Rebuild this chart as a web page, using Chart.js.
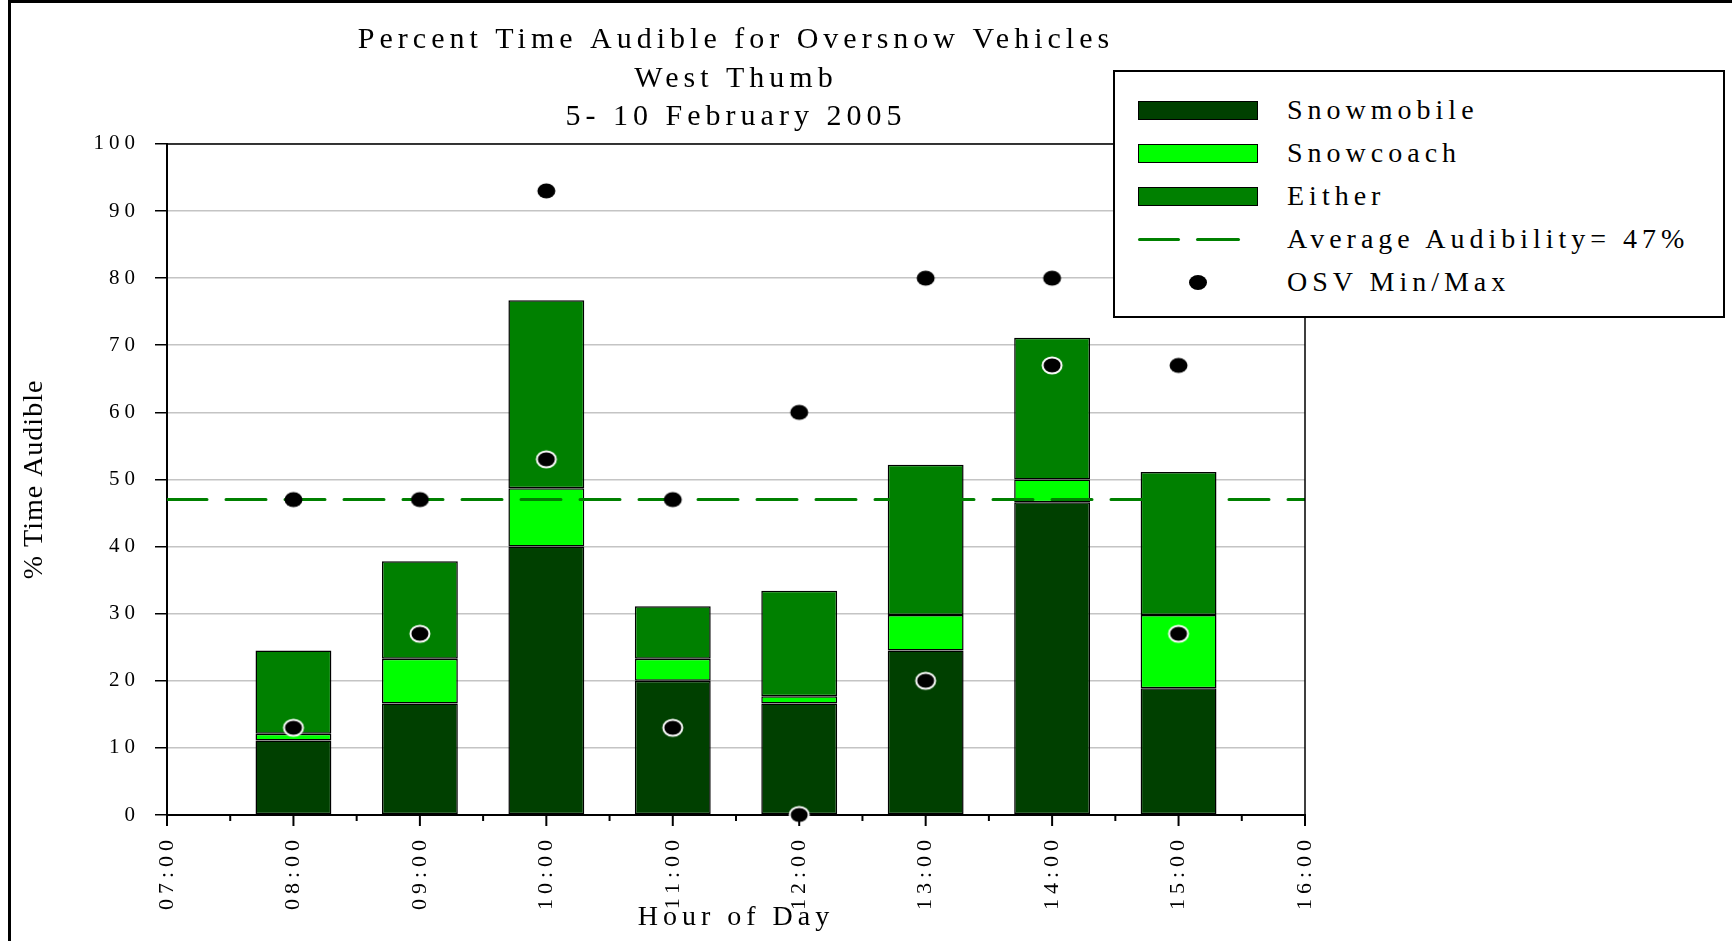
<!DOCTYPE html>
<html>
<head>
<meta charset="utf-8">
<title>Percent Time Audible for Oversnow Vehicles</title>
<script src="https://cdn.jsdelivr.net/npm/chart.js@4.4.1/dist/chart.umd.min.js"></script>
<style>
    body { margin: 0; background: #fff; }
    #wrap { position: relative; width: 1732px; height: 941px; overflow: hidden; }
    #frame { position: absolute; left: 8px; top: 0; right: -10px; bottom: -10px;
             border-left: 3px solid #000; border-top: 3px solid #000; pointer-events: none; }
    #legend { position: absolute; left: 1113px; top: 70px; width: 608px; height: 244px;
              border: 2px solid #000; background: #fff;
              font-family: 'Liberation Serif', 'Times New Roman', serif; font-size: 28px;
              letter-spacing: 5px; color: #000; }
    .item { position: absolute; left: 0; height: 40px; width: 100%; }
    .item .key { position: absolute; left: 23px; top: 10px; width: 120px; height: 19px; }
    .item .txt { position: absolute; left: 172px; top: 3px; white-space: nowrap; }
</style>
</head>
<body>
<div id="wrap">
    <canvas id="chart" width="1732" height="941"></canvas>
    <div id="frame"></div>
    <div id="legend"></div>
</div>
<script>
// values
const hours = [8, 9, 10, 11, 12, 13, 14, 15];
const snowmobile = [11.1, 16.6, 40.0, 20.0, 16.6, 24.5, 46.6, 18.9];
const snowcoach = [1.0, 6.7, 8.7, 3.3, 1.1, 5.3, 3.4, 10.9];
const either = [12.4, 14.5, 28.0, 7.8, 15.7, 22.4, 21.1, 21.3];
const osvMin = [13, 27, 53, 13, 0, 20, 67, 27];
const osvMax = [47, 47, 93, 47, 60, 80, 80, 67];
const averageAudibility = 47;
const hourRange = [7, 16];
const hourLabels = ['07:00', '08:00', '09:00', '10:00', '11:00', '12:00', '13:00', '14:00', '15:00', '16:00'];
const percentRange = [0, 100];
const titleLines = ['Percent Time Audible for Oversnow Vehicles', 'West Thumb', '5- 10 February 2005'];

const FONT = "'Liberation Serif', 'Times New Roman', serif";
const C_SNOWMOBILE = '#004000';
const C_SNOWCOACH = '#00ff00';
const C_EITHER = '#008000';
const C_AVG = '#008000';

// black ellipse markers, optional white ring
const makeDot = (w, h, ring) => {
    const c = document.createElement('canvas');
    c.width = w + 5;
    c.height = h + 5;
    const g = c.getContext('2d');
    g.beginPath();
    g.ellipse(c.width / 2, c.height / 2, w / 2, h / 2, 0, 0, Math.PI * 2);
    g.fillStyle = '#000';
    g.fill();
    if (ring) {
        g.strokeStyle = '#fff';
        g.lineWidth = 2;
        g.stroke();
    }
    return c;
};
const minDot = makeDot(19, 16, true);
const maxDot = makeDot(18, 15, false);

const toXY = (vals) => hours.map((h, i) => ({ x: h, y: vals[i] }));

// the ruler also counts the half-hour ticks, so 1.2 of a half hour = 0.6 of an hour
const barSet = (label, vals, color) => ({
    type: 'bar',
    label: label,
    data: toXY(vals),
    backgroundColor: color,
    borderColor: '#000',
    borderWidth: 1.5,
    borderSkipped: false,
    stack: 'osv',
    order: 3,
    barPercentage: 1.2,
    categoryPercentage: 1.0
});

// letter spacing for canvas text, y title kept tighter
const spacing = {
    id: 'spacing',
    beforeUpdate(chart) { chart.ctx.letterSpacing = '5px'; },
    beforeDraw(chart) {
        chart.ctx.letterSpacing = '5px';
        const y = chart.scales.y;
        if (y && !y._wrapped) {
            const orig = y.drawTitle.bind(y);
            y.drawTitle = function() {
                const old = this.ctx.letterSpacing;
                this.ctx.letterSpacing = '1px';
                orig();
                this.ctx.letterSpacing = old;
            };
            y._wrapped = true;
        }
    }
};

// x tick marks (long on hours, short on half hours) and top/right frame of the plot
const axisMarks = {
    id: 'axisMarks',
    afterDraw(chart) {
        const { ctx, chartArea, scales } = chart;
        ctx.save();
        ctx.strokeStyle = '#000';
        ctx.lineWidth = 2;
        scales.x.ticks.forEach(t => {
            const px = scales.x.getPixelForValue(t.value);
            const len = Number.isInteger(t.value) ? 11 : 6;
            ctx.beginPath();
            ctx.moveTo(px, chartArea.bottom);
            ctx.lineTo(px, chartArea.bottom + len);
            ctx.stroke();
        });
        ctx.lineWidth = 1.5;
        ctx.beginPath();
        ctx.moveTo(chartArea.left, chartArea.top);
        ctx.lineTo(chartArea.right, chartArea.top);
        ctx.lineTo(chartArea.right, chartArea.bottom);
        ctx.stroke();
        ctx.restore();
    }
};

const ctx = document.getElementById('chart').getContext('2d');
const chart = new Chart(ctx, {
    type: 'bar',
    data: {
        datasets: [
            barSet('Snowmobile', snowmobile, C_SNOWMOBILE),
            barSet('Snowcoach', snowcoach, C_SNOWCOACH),
            barSet('Either', either, C_EITHER),
            {
                type: 'line',
                label: 'Average Audibility= ' + averageAudibility + '%',
                data: hourRange.map(h => ({ x: h, y: averageAudibility })),
                borderColor: C_AVG,
                borderWidth: 3,
                borderDash: [40, 19],
                borderCapStyle: 'round',
                pointRadius: 0,
                stack: 'avg',
                order: 2
            },
            {
                type: 'scatter',
                label: 'OSV Min/Max',
                data: toXY(osvMin),
                pointStyle: minDot,
                pointRadius: 10,
                stack: 'min',
                clip: false,
                order: 1
            },
            {
                type: 'scatter',
                label: 'OSV Min/Max',
                data: toXY(osvMax),
                pointStyle: maxDot,
                pointRadius: 10,
                stack: 'max',
                clip: false,
                order: 0
            }
        ]
    },
    options: {
        responsive: false,
        animation: false,
        devicePixelRatio: 1,
        layout: { padding: { left: 10, right: 427, top: 0, bottom: 0 } },
        plugins: {
            legend: { display: false },
            tooltip: { enabled: false },
            title: {
                display: true,
                fullSize: false,
                text: titleLines,
                color: '#000',
                font: { family: FONT, size: 30, weight: 'normal', lineHeight: 1.288 },
                padding: { top: 21, bottom: 7 }
            }
        },
        scales: {
            x: {
                type: 'linear',
                min: hourRange[0],
                max: hourRange[1],
                offset: false,
                grid: { display: true, offset: false, drawOnChartArea: false, drawTicks: false },
                border: { color: '#000', width: 2 },
                ticks: {
                    stepSize: 0.5,
                    autoSkip: false,
                    minRotation: 90,
                    maxRotation: 90,
                    padding: 20,
                    color: '#000',
                    font: { family: FONT, size: 22 },
                    callback: (v) => Number.isInteger(v) ? hourLabels[v - hourRange[0]] : ''
                },
                title: {
                    display: true,
                    text: 'Hour of Day',
                    color: '#000',
                    font: { family: FONT, size: 28 },
                    padding: { top: 0, bottom: 7 }
                },
                afterFit: (scale) => { scale.height = 126; }
            },
            y: {
                stacked: true,
                min: percentRange[0],
                max: percentRange[1],
                grid: { color: '#c4c4c4', lineWidth: 1.5, tickColor: '#000', tickLength: 12 },
                border: { color: '#000', width: 2 },
                ticks: {
                    stepSize: 10,
                    padding: 15,
                    color: '#000',
                    font: { family: FONT, size: 21 }
                },
                title: {
                    display: true,
                    text: '% Time Audible',
                    color: '#000',
                    font: { family: FONT, size: 28 },
                    padding: { top: 8, bottom: 0 }
                },
                afterFit: (scale) => { scale.width = 157; }
            }
        }
    },
    plugins: [spacing, axisMarks]
});

// html legend built from the datasets
const legendEl = document.getElementById('legend');
const seen = [];
chart.data.datasets.forEach((ds) => {
    if (seen.includes(ds.label)) return;
    seen.push(ds.label);
    const item = document.createElement('div');
    item.className = 'item';
    item.style.top = (19 + (seen.length - 1) * 43) + 'px';
    const key = document.createElement('div');
    key.className = 'key';
    if (ds.type === 'bar') {
        key.style.background = ds.backgroundColor;
        key.style.border = '1.5px solid #000';
        key.style.boxSizing = 'border-box';
    } else if (ds.type === 'line') {
        key.innerHTML = '<span style="position:absolute;left:0;top:8px;width:42px;height:3px;border-radius:2px;background:' + ds.borderColor + '"></span>' +
                        '<span style="position:absolute;left:58px;top:8px;width:44px;height:3px;border-radius:2px;background:' + ds.borderColor + '"></span>';
    } else {
        key.innerHTML = '<span style="position:absolute;left:51px;top:2px;width:18px;height:15px;border-radius:50%;background:#000"></span>';
    }
    const txt = document.createElement('div');
    txt.className = 'txt';
    txt.textContent = ds.label;
    item.appendChild(key);
    item.appendChild(txt);
    legendEl.appendChild(item);
});
</script>
</body>
</html>
